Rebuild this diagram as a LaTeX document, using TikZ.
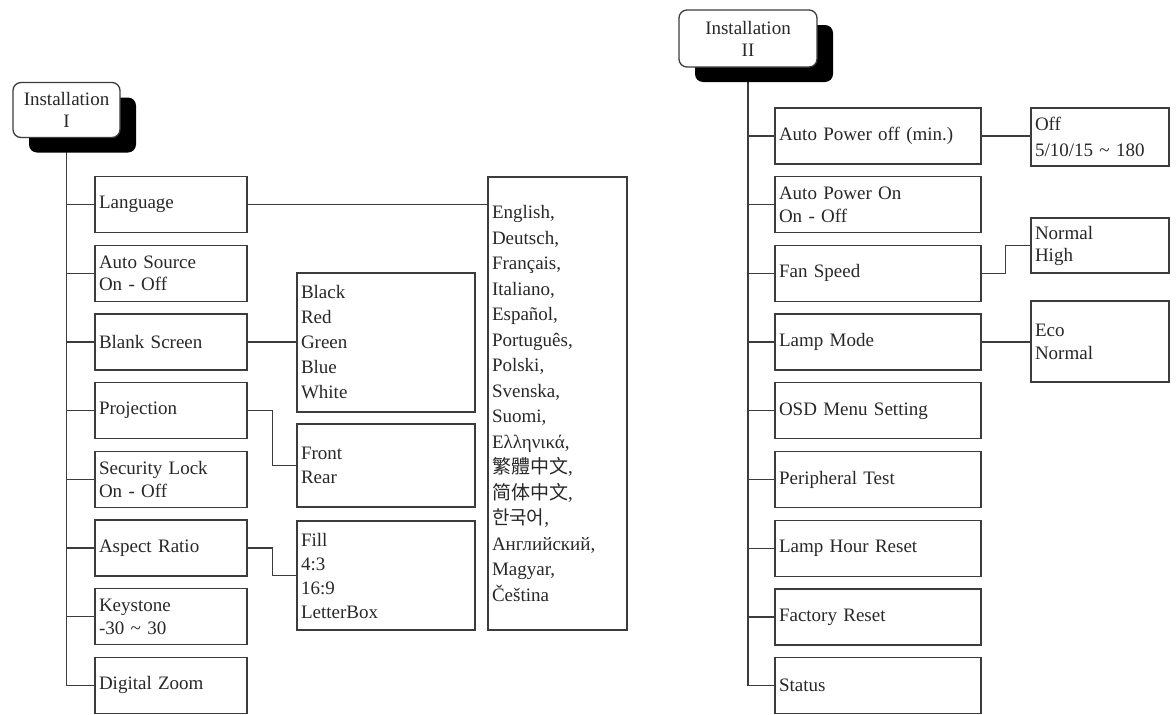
\documentclass[tikz,border=0pt]{standalone}
\usepackage{fontspec}
\setmainfont{Liberation Serif}
\newfontfamily\cjk{Noto Sans CJK TC}
\usetikzlibrary{positioning,shadows,backgrounds,calc}
\definecolor{linegray}{RGB}{60,60,60}
\definecolor{inktext}{RGB}{40,40,40}

\begin{document}
\begin{tikzpicture}[x=1pt,y=-1pt,
  menu/.style={draw=linegray,line width=1.3pt,minimum height=56pt,
               inner xsep=4pt,inner ysep=0pt,align=left,text=inktext,
               font=\fontsize{19}{22.5}\selectfont},
  menuL/.style={menu,text width=144pt},
  menuR/.style={menu,text width=198pt},
  opts/.style={draw=linegray,line width=1.3pt,inner xsep=4pt,inner ysep=0pt,
               align=left,text=inktext,font=\fontsize{19}{24}\selectfont},
  head/.style={draw=linegray,line width=1.3pt,fill=white,rounded corners=8pt,
               align=center,text=inktext,font=\fontsize{19}{22}\selectfont,
               drop shadow={shadow xshift=16pt,shadow yshift=-15pt,
                            opacity=1,fill=black}},
  conn/.style={draw=linegray,line width=1.3pt}]
\useasboundingbox (0,0) rectangle (1176,715);

% left column
\node[head,minimum width=107pt,minimum height=55pt] (inst1) at (66.5,110)
  {Installation\\I};
\node[menuL] (lang)    at (171,204.5) {Language};
\node[menuL] (asrc)    at (171,273.2) {Auto Source\\On - Off};
\node[menuL] (blank)   at (171,341.9) {Blank Screen};
\node[menuL] (proj)    at (171,410.6) {Projection};
\node[menuL] (seclock) at (171,479.3) {Security Lock\\On - Off};
\node[menuL] (aspect)  at (171,548)   {Aspect Ratio};
\node[menuL] (keyst)   at (171,616.7) {Keystone\\-30 \textasciitilde{} 30};
\node[menuL] (dzoom)   at (171,685.4) {Digital Zoom};

\node[opts,text width=131pt,minimum height=453pt,
      font=\fontsize{19}{25.5}\selectfont] (langs) at (557.5,403.5)
  {English,\\Deutsch,\\Français,\\Italiano,\\Español,\\Português,\\Polski,\\
   Svenska,\\Suomi,\\Ελληνικά,\\{\cjk 繁體中文},\\{\cjk 简体中文},\\
   {\cjk 한국어},\\Английский,\\Magyar,\\Čeština};
\node[opts,text width=170pt,minimum height=139pt,
      font=\fontsize{19}{25}\selectfont] (colors) at (386,342.5)
  {Black\\Red\\Green\\Blue\\White};
\node[opts,text width=170pt,minimum height=83pt] (frontrear) at (386,465.5)
  {Front\\Rear};
\node[opts,text width=170pt,minimum height=109pt] (ratios) at (386,575.5)
  {Fill\\4:3\\16:9\\LetterBox};

% right column
\node[head,minimum width=138pt,minimum height=57pt] (inst2) at (748,38.5)
  {Installation\\II};
\node[menuR] (apoff)   at (878,136)   {Auto Power off (min.)};
\node[menuR] (apon)    at (878,204.7) {Auto Power On\\On - Off};
\node[menuR] (fan)     at (878,273.4) {Fan Speed};
\node[menuR] (lamp)    at (878,342.1) {Lamp Mode};
\node[menuR] (osd)     at (878,410.8) {OSD Menu Setting};
\node[menuR] (periph)  at (878,479.5) {Peripheral Test};
\node[menuR] (lhreset) at (878,548.2) {Lamp Hour Reset};
\node[menuR] (freset)  at (878,616.9) {Factory Reset};
\node[menuR] (status)  at (878,685.6) {Status};

\node[opts,text width=130pt,minimum height=58pt,
      font=\fontsize{19}{26}\selectfont] (offopt) at (1100,137)
  {Off\\5/10/15 \textasciitilde{} 180};
\node[opts,text width=130pt,minimum height=55pt,
      font=\fontsize{19}{22}\selectfont] (fanopt) at (1100,245.5)
  {Normal\\High};
\node[opts,text width=130pt,minimum height=81pt,
      font=\fontsize{19}{23}\selectfont] (lampopt) at (1100,341.5)
  {Eco\\Normal};

\begin{scope}[on background layer]
\fill[white] (0,0) rectangle (1176,715);
\draw[conn] (inst1.south) -- (inst1.south |- dzoom.west) -- (dzoom.west);
\draw[conn] (inst1.south |- lang.west) -- (lang.west);
\draw[conn] (inst1.south |- asrc.west) -- (asrc.west);
\draw[conn] (inst1.south |- blank.west) -- (blank.west);
\draw[conn] (inst1.south |- proj.west) -- (proj.west);
\draw[conn] (inst1.south |- seclock.west) -- (seclock.west);
\draw[conn] (inst1.south |- aspect.west) -- (aspect.west);
\draw[conn] (inst1.south |- keyst.west) -- (keyst.west);
\draw[conn] (lang.east) -- (lang.east -| langs.west);
\draw[conn] (blank.east) -- (blank.east -| colors.west);
\draw[conn] (proj.east) -- ++(25,0) |- (frontrear.west);
\draw[conn] (aspect.east) -- ++(25,0) |- (ratios.west);

\draw[conn] (inst2.south) -- (inst2.south |- status.west) -- (status.west);
\draw[conn] (inst2.south |- apoff.west) -- (apoff.west);
\draw[conn] (inst2.south |- apon.west) -- (apon.west);
\draw[conn] (inst2.south |- fan.west) -- (fan.west);
\draw[conn] (inst2.south |- lamp.west) -- (lamp.west);
\draw[conn] (inst2.south |- osd.west) -- (osd.west);
\draw[conn] (inst2.south |- periph.west) -- (periph.west);
\draw[conn] (inst2.south |- lhreset.west) -- (lhreset.west);
\draw[conn] (inst2.south |- freset.west) -- (freset.west);
\draw[conn] (apoff.east) -- (apoff.east -| offopt.west);
\draw[conn] (fan.east) -- ++(24,0) |- (fanopt.west);
\draw[conn] (lamp.east) -- (lamp.east -| lampopt.west);
\end{scope}
\end{tikzpicture}
\end{document}
